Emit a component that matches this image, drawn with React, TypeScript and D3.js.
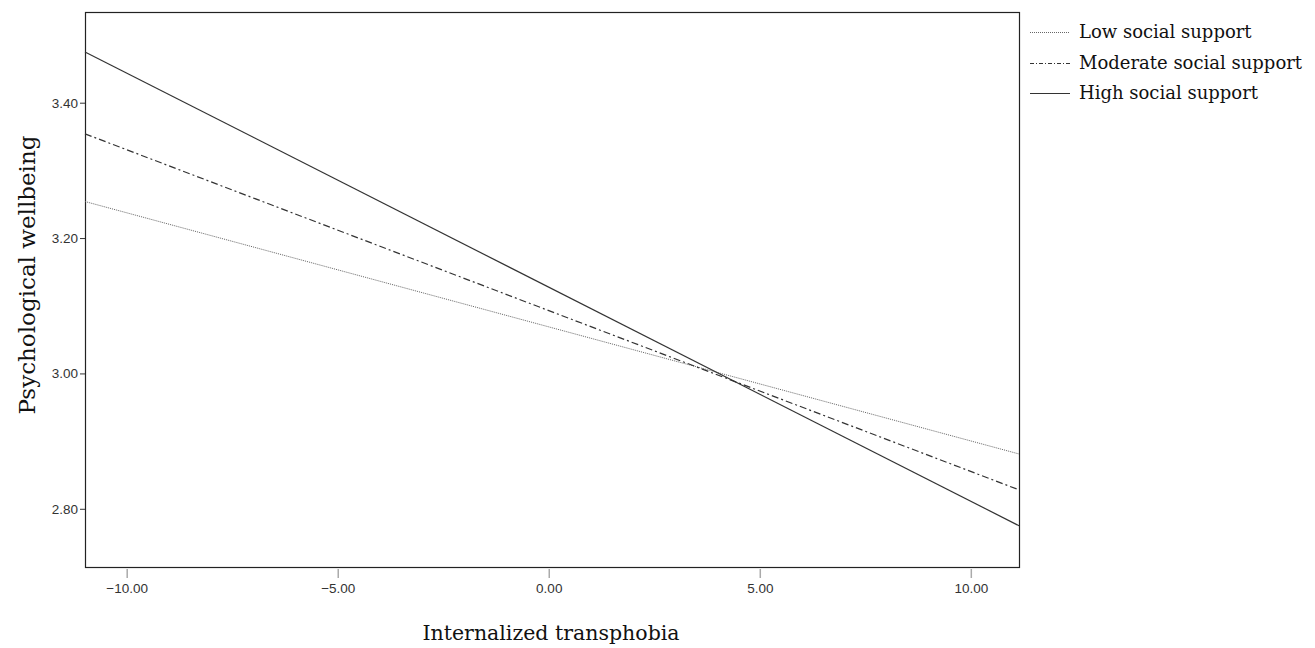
import { useRef, useEffect } from 'react';
import * as d3 from 'd3';

// predicted values at the two ends of the x range
const xEnds = [-11.0, 11.13];
const lowSupport = [3.254, 2.881];
const moderateSupport = [3.354, 2.828];
const highSupport = [3.475, 2.775];

const seriesNames = ['Low social support', 'Moderate social support', 'High social support'];
const xTicks = [-10, -5, 0, 5, 10];
const yTicks = [2.8, 3.0, 3.2, 3.4];

export default function App() {
  const svgRef = useRef<SVGSVGElement>(null);
  const width = 1315,
    height = 648;
  const margin = { top: 12, right: 296, bottom: 81, left: 85 };

  useEffect(() => {
    const svg = d3.select(svgRef.current);
    svg.selectAll('*').remove();

    const x = d3.scaleLinear().domain([-11.0, 11.13]).range([margin.left, width - margin.right]);
    const y = d3.scaleLinear().domain([2.714, 3.534]).range([height - margin.bottom, margin.top]);

    const serif = "'DejaVu Serif', serif";
    const sans = "'Liberation Sans', Arial, sans-serif";

    // plot box
    svg.append('rect')
      .attr('x', x.range()[0] + 0.5)
      .attr('y', y.range()[1] + 0.5)
      .attr('width', x.range()[1] - x.range()[0])
      .attr('height', y.range()[0] - y.range()[1])
      .attr('fill', 'none')
      .attr('stroke', '#222')
      .attr('stroke-width', 1.2);

    // x axis ticks (short grey marks below the box)
    const xa = svg.append('g');
    xTicks.forEach((t) => {
      xa.append('line')
        .attr('x1', x(t)).attr('x2', x(t))
        .attr('y1', y.range()[0] + 2).attr('y2', y.range()[0] + 11)
        .attr('stroke', '#aaa').attr('stroke-width', 1.5);
      xa.append('text')
        .attr('x', x(t))
        .attr('y', y.range()[0] + 26)
        .attr('text-anchor', 'middle')
        .attr('font-family', sans)
        .attr('font-size', 13.5)
        .attr('fill', '#333')
        .text(t < 0 ? '\u2212' + Math.abs(t).toFixed(2) : t.toFixed(2));
    });

    // y axis ticks
    const ya = svg.append('g');
    yTicks.forEach((t) => {
      ya.append('line')
        .attr('x1', x.range()[0] - 5).attr('x2', x.range()[0])
        .attr('y1', y(t) + 0.5).attr('y2', y(t) + 0.5)
        .attr('stroke', '#333');
      ya.append('text')
        .attr('x', x.range()[0] - 7)
        .attr('y', y(t) + 5)
        .attr('text-anchor', 'end')
        .attr('font-family', sans)
        .attr('font-size', 13.5)
        .attr('fill', '#333')
        .text(t.toFixed(2));
    });

    // axis titles
    svg.append('text')
      .attr('x', 551)
      .attr('y', 640)
      .attr('text-anchor', 'middle')
      .attr('font-family', serif)
      .attr('font-size', 20.5)
      .attr('fill', '#111')
      .text('Internalized transphobia');

    svg.append('text')
      .attr('transform', 'translate(35,275) rotate(-90)')
      .attr('text-anchor', 'middle')
      .attr('font-family', serif)
      .attr('font-size', 23)
      .attr('fill', '#111')
      .text('Psychological wellbeing');

    const styles = [
      { values: lowSupport, dash: '1,1', color: '#666', w: 1 },
      { values: moderateSupport, dash: '7,3,2,3', color: '#333', w: 1.2 },
      { values: highSupport, dash: null, color: '#333', w: 1.2 },
    ];

    const line = d3.line<number>()
      .x((d, i) => x(xEnds[i]))
      .y((d) => y(d));

    styles.forEach((s) => {
      svg.append('path')
        .attr('d', line(s.values))
        .attr('fill', 'none')
        .attr('stroke', s.color)
        .attr('stroke-width', s.w)
        .attr('stroke-dasharray', s.dash);
    });

    // legend
    const legend = svg.append('g');
    const legendY = [32, 63, 93];
    const legendDash = ['1,1', '4,2,1,2', null];
    seriesNames.forEach((name, i) => {
      legend.append('line')
        .attr('x1', 1030).attr('x2', 1070)
        .attr('y1', legendY[i] + 0.5).attr('y2', legendY[i] + 0.5)
        .attr('stroke', styles[i].color)
        .attr('stroke-width', styles[i].w)
        .attr('stroke-dasharray', legendDash[i]);
      legend.append('text')
        .attr('x', 1079)
        .attr('y', legendY[i] + 6)
        .attr('font-family', serif)
        .attr('font-size', 18)
        .attr('fill', '#111')
        .text(name);
    });
  }, []);

  return (
    <svg
      ref={svgRef}
      width={width}
      height={height}
      style={{ position: 'absolute', left: 0, top: 0, background: '#fff' }}
    />
  );
}
